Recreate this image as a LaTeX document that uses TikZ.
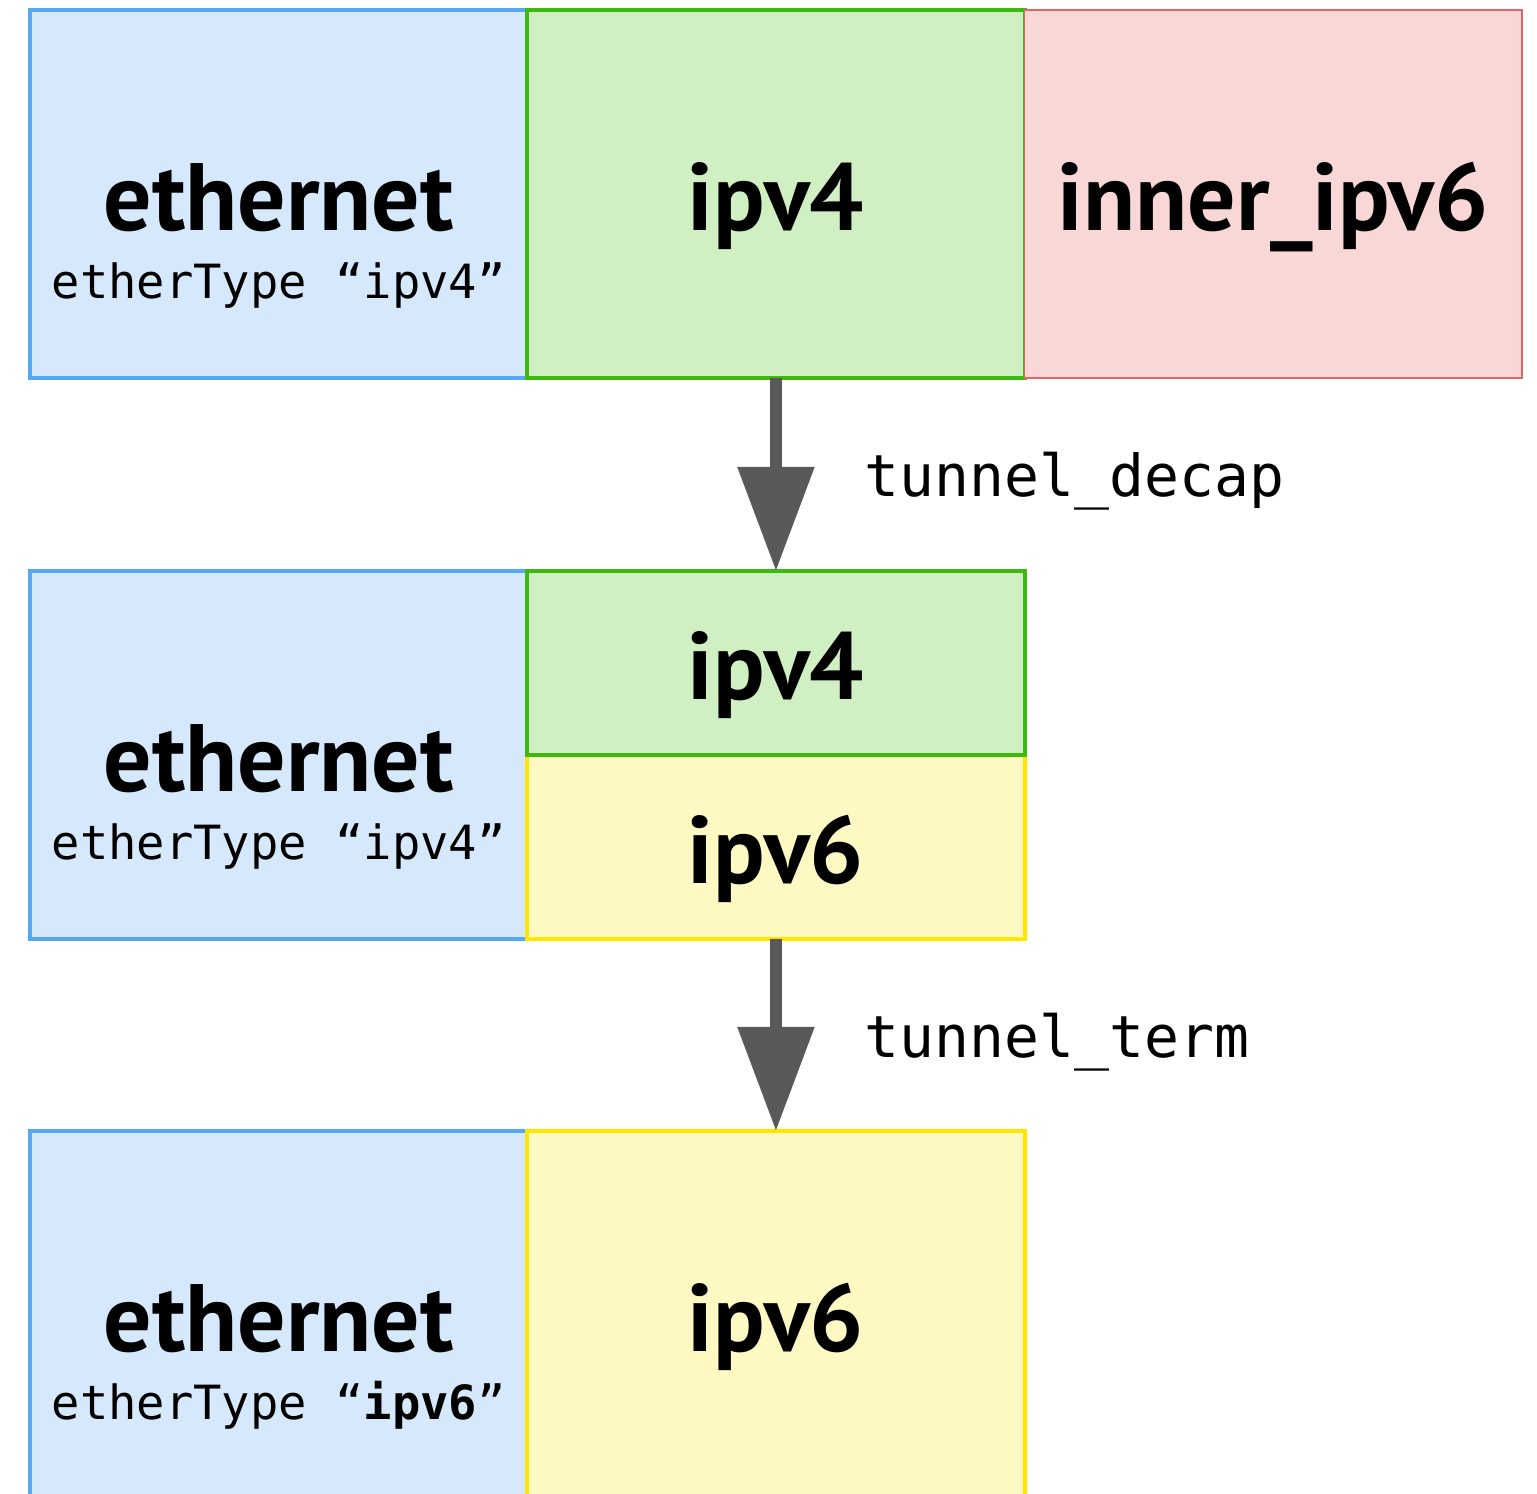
\documentclass[tikz,border=0pt]{standalone}
\usepackage{fontspec}
\usetikzlibrary{arrows.meta,positioning}
\newfontfamily\ptsans{PT Sans}
\newfontfamily\dvmono{DejaVu Sans Mono}
\definecolor{ethfill}{HTML}{D5E8FC}
\definecolor{ethline}{HTML}{57A8F2}
\definecolor{vfourfill}{HTML}{D0EFC3}
\definecolor{vfourline}{HTML}{3DBA0F}
\definecolor{vsixfill}{HTML}{FEF9C2}
\definecolor{vsixline}{HTML}{FFE600}
\definecolor{innerfill}{HTML}{F9D7D6}
\definecolor{innerline}{HTML}{E06666}
\definecolor{arrowgray}{HTML}{595959}
\tikzset{
    hdrbox/.style={draw, line width=1.1pt, outer sep=0pt, inner sep=0pt,
        minimum width=4.97cm, minimum height=3.68cm,
        text height=0.92cm, text depth=0.2cm,
        font=\ptsans\bfseries\fontsize{27.2}{32}\selectfont},
    ethbox/.style={hdrbox, fill=ethfill, draw=ethline},
    vfourbox/.style={hdrbox, fill=vfourfill, draw=vfourline},
    vsixbox/.style={hdrbox, fill=vsixfill, draw=vsixline},
    innerbox/.style={hdrbox, fill=innerfill, draw=innerline, line width=0.5pt},
    halfbox/.style={minimum height=1.84cm},
    typetxt/.style={font=\dvmono\fontsize{13.4}{16}\selectfont, inner sep=0pt},
    actname/.style={font=\dvmono\fontsize{16.5}{20}\selectfont, inner sep=0pt, text=black},
    bigarrow/.style={arrowgray, line width=0.12cm,
        -{Triangle[length=1.04cm, width=0.74cm]}}
}
\begin{document}
\begin{tikzpicture}[x=0.01cm, y=-0.01cm]
    \useasboundingbox (0,0) rectangle (1537,1493);
% ethernet headers
\foreach \i/\y/\t in {1/10/ipv4, 2/571/ipv4, 3/1131/{\textbf{ipv6}}}
{
    \node[ethbox, anchor=north west] (eth\i) at (30,\y) {ethernet};
    \node[typetxt, anchor=base] (type\i) at ([yshift=-1.04cm]eth\i.center) {etherType “\t”};
}
% before
\node[vfourbox, right=0pt of eth1] (ipvfoura) {ipv4};
\node[innerbox, right=0pt of ipvfoura] (innera) {inner\_ipv6};
% after tunnel_decap
\node[vsixbox, halfbox, anchor=south west] (ipvsixb) at (eth2.south east) {ipv6};
\node[vfourbox, halfbox, above=0pt of ipvsixb] (ipvfourb) {ipv4};
% after tunnel_term
\node[vsixbox, right=0pt of eth3] (ipvsixc) {ipv6};

\draw[bigarrow] (ipvfoura) -- node[actname, right=0.83cm, yshift=-0.07cm]{tunnel\_decap} (ipvfourb);
\draw[bigarrow] (ipvsixb) -- node[actname, right=0.83cm, yshift=-0.07cm]{tunnel\_term} (ipvsixc);
    \end{tikzpicture}
\end{document}
